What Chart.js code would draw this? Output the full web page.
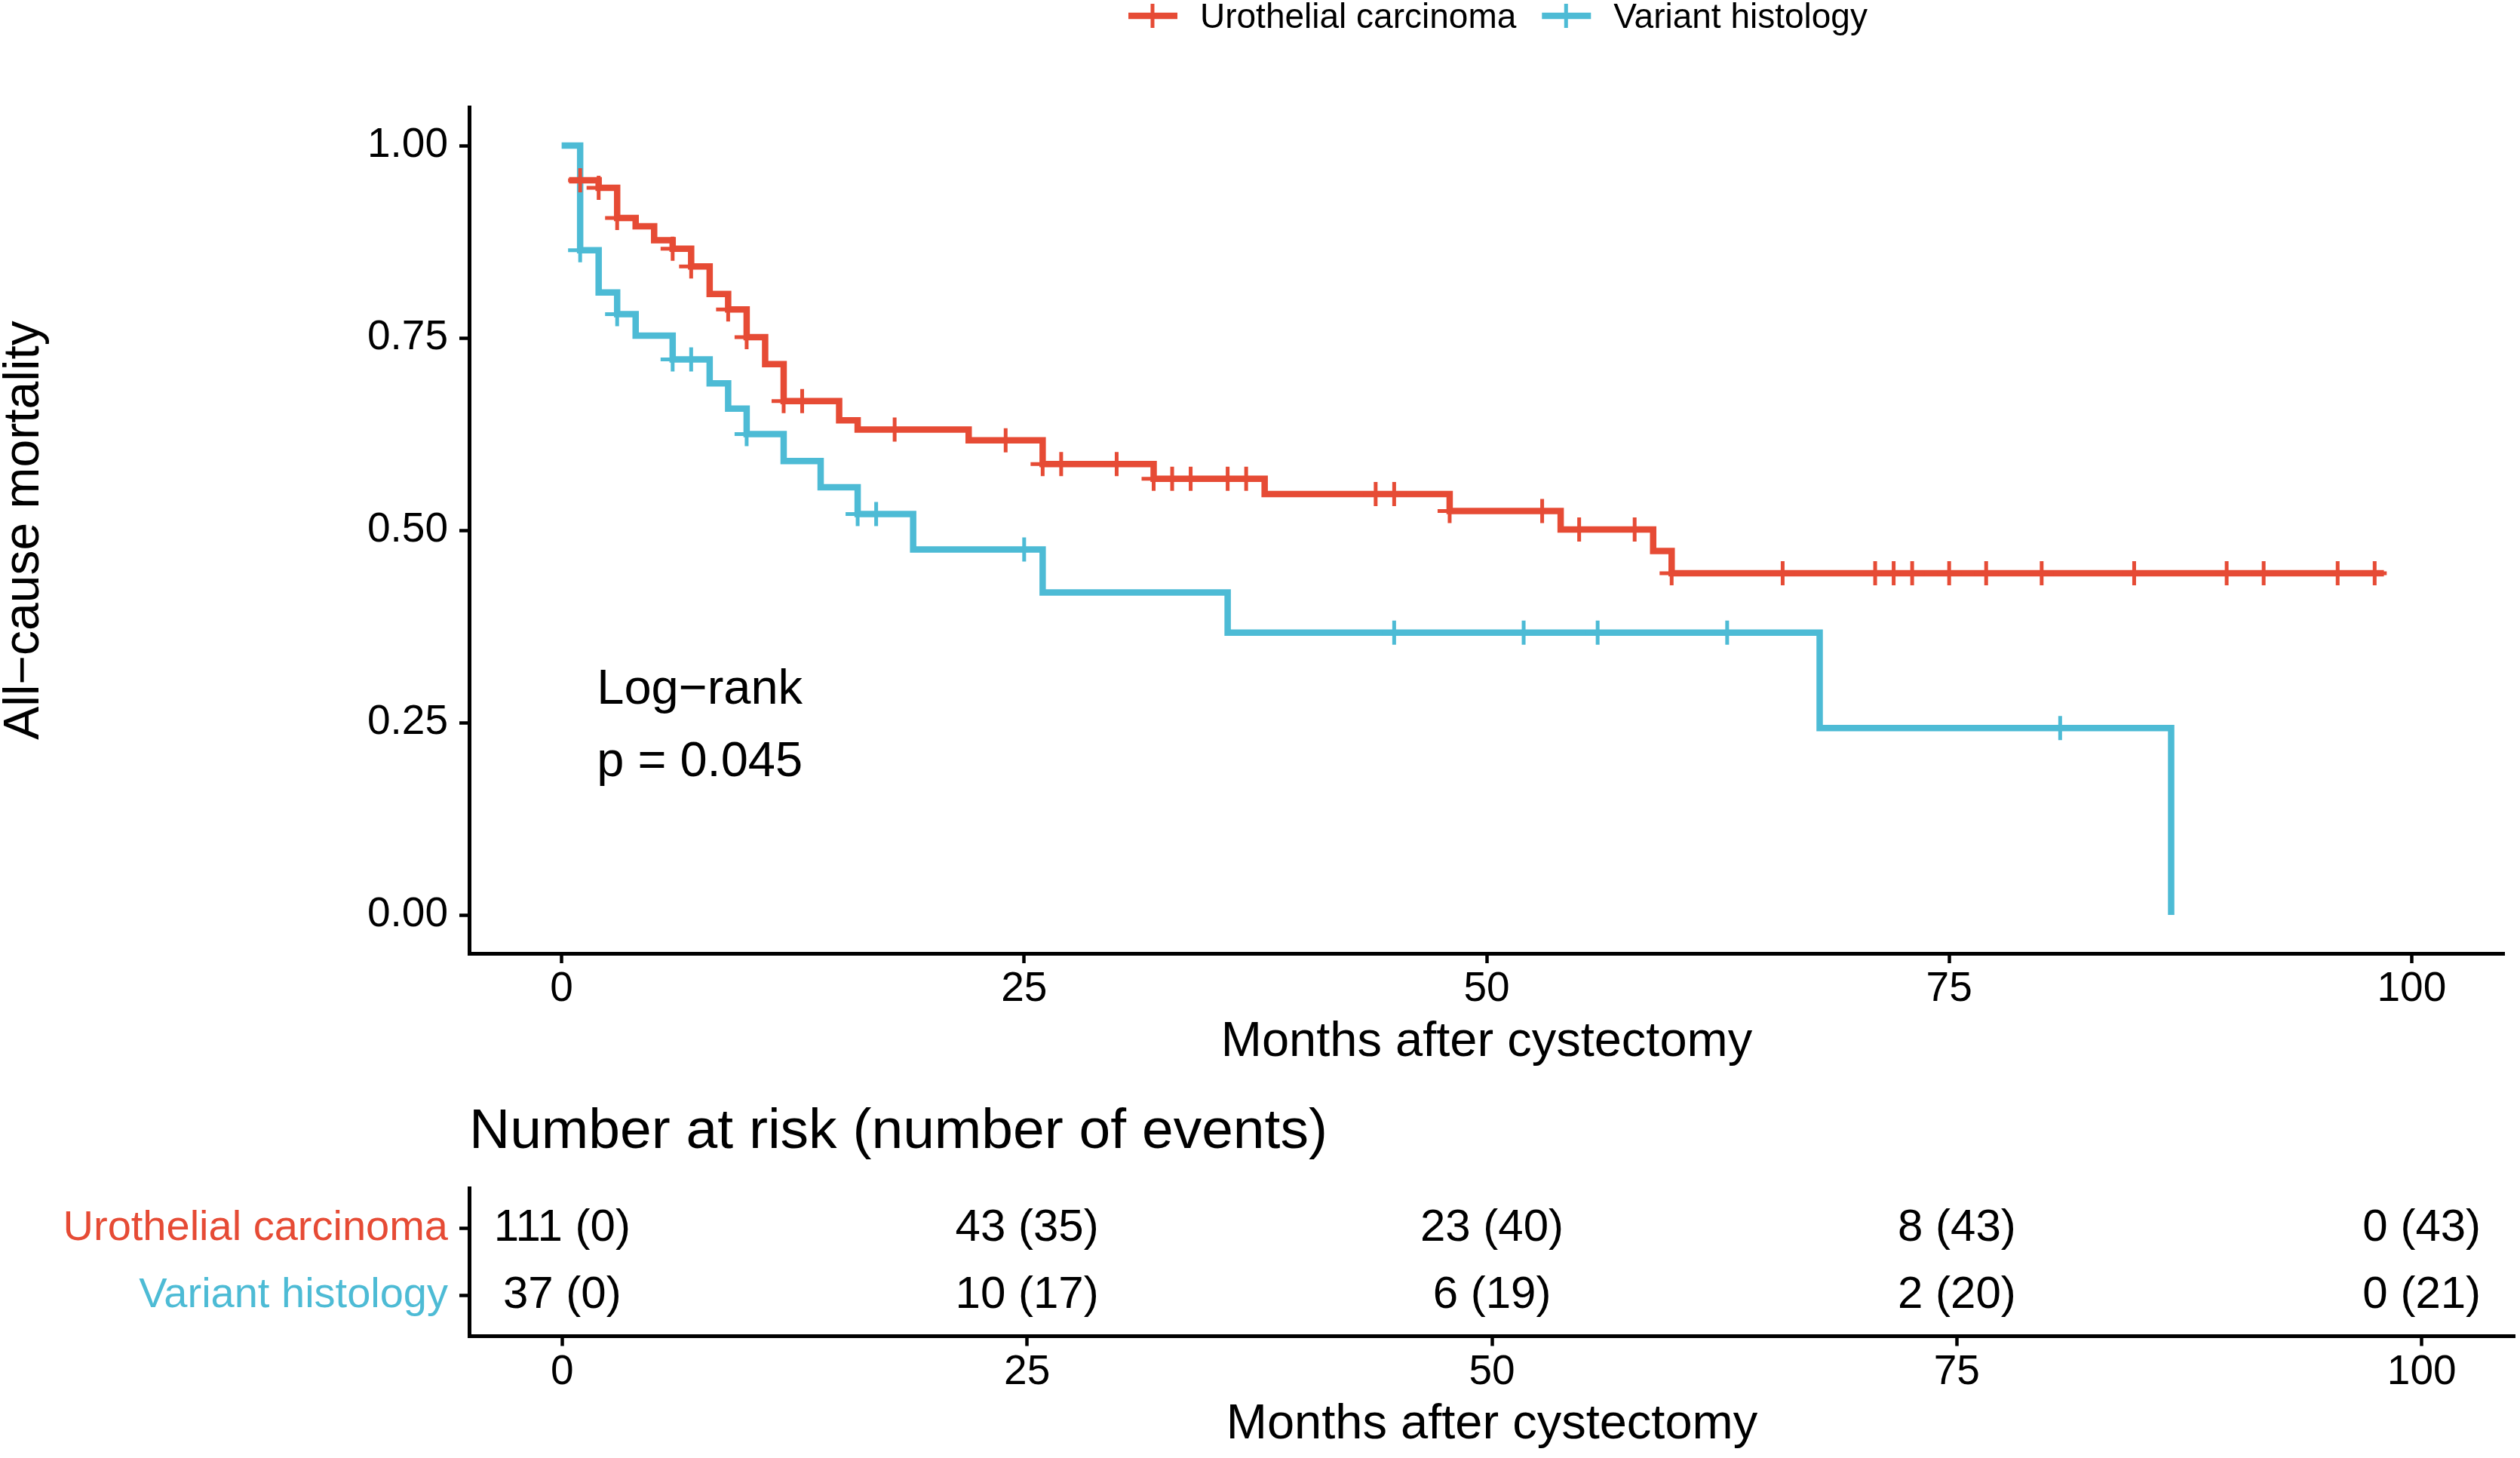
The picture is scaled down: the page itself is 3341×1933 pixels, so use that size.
<!DOCTYPE html>
<html>
<head>
<meta charset="utf-8">
<title>All-cause mortality after cystectomy</title>
<script src="https://cdn.jsdelivr.net/npm/chart.js@4.4.1/dist/chart.umd.min.js"></script>
<style>
  html, body { margin: 0; padding: 0; background: #fff; overflow: hidden; }
  #wrap { position: relative; width: 3341px; height: 1933px; }
  canvas { position: absolute; left: 0; }
  #km { top: 0; }
  #risk { top: 1440px; }
</style>
</head>
<body>
<div id="wrap">
  <canvas id="km" width="3341" height="1440"></canvas>
  <canvas id="risk" width="3341" height="493"></canvas>
</div>
<script>
const groups = ['Urothelial carcinoma', 'Variant histology'];
const colors = ['#E64B35', '#4DBBD5'];

// Kaplan-Meier steps: month of each drop and the level after it
const ucTimes = [0.4, 2, 3, 4, 5, 6, 7, 8, 9, 10, 11, 12, 15, 16, 22, 26, 32, 38, 48, 54, 59, 60, 98.5];
const ucSurv = [0.955, 0.945, 0.906, 0.895, 0.877, 0.866, 0.843, 0.807, 0.787, 0.751, 0.716, 0.668, 0.643, 0.631, 0.617, 0.586, 0.567, 0.547, 0.525, 0.501, 0.473, 0.444, 0.444];
const ucCensor = [1, 2, 3, 6, 7, 9, 10, 12, 13, 18, 24, 26, 27, 30, 32, 33, 34, 36, 37, 44, 45, 48, 53, 55, 58, 60, 66, 71, 72, 73, 75, 77, 80, 85, 90, 92, 96, 98];

const vhTimes = [0, 1, 2, 3, 4, 6, 8, 9, 10, 12, 14, 16, 19, 26, 36, 68, 87];
const vhSurv = [1.0, 0.864, 0.809, 0.781, 0.753, 0.722, 0.691, 0.658, 0.625, 0.590, 0.556, 0.521, 0.475, 0.419, 0.367, 0.243, 0.0];
const vhCensor = [1, 3, 6, 7, 10, 16, 17, 25, 45, 52, 56, 63, 81];

const xTicks = [0, 25, 50, 75, 100];
const yTicks = [0, 0.25, 0.5, 0.75, 1];
const yTickLabels = ['0.00', '0.25', '0.50', '0.75', '1.00'];

// number at risk table
const riskTimes = [0, 25, 50, 75, 100];
const ucAtRisk = [111, 43, 23, 8, 0];
const ucEvents = [0, 35, 40, 43, 43];
const vhAtRisk = [37, 10, 6, 2, 0];
const vhEvents = [0, 17, 19, 20, 21];
const riskRows = [2, 1];

const pvalLines = ['Log\u2212rank', 'p = 0.045'];
const pvalPos = [[1.9, 0.275], [1.9, 0.18]];

const FONT = '"Liberation Sans", Arial, Helvetica, sans-serif';
Chart.defaults.font.family = FONT;
Chart.defaults.color = '#000';

function steps(times, surv) {
    return times.map((t, i) => ({x: t, y: surv[i]}));
}

function survAt(times, surv, t) {
    let s = 1;
    for (let i = 0; i < times.length; i++) {
        if (times[i] <= t) s = surv[i];
    }
    return s;
}

function censorPoints(censor, times, surv) {
    return censor.map(t => ({x: t, y: survAt(times, surv, t)}));
}

function axisX(height) {
    return {
        type: 'linear',
        min: -5,
        max: 105,
        afterBuildTicks: s => { s.ticks = xTicks.map(v => ({value: v})); },
        afterFit: s => { s.height = height; },
        ticks: { font: {size: 55}, padding: 2, maxRotation: 0, autoSkip: false },
        grid: { display: true, drawOnChartArea: false, drawTicks: true, tickLength: 13, tickWidth: 4.5, color: '#000' },
        border: { display: true, color: '#000', width: 5 },
        title: { display: true, text: 'Months after cystectomy', font: {size: 65, lineHeight: 1}, padding: 0, color: '#000' }
    };
}

// legend on top: line + cross keys
const kmLegend = {
    id: 'kmLegend',
    afterDraw(chart) {
        const ctx = chart.ctx;
        ctx.save();
        ctx.font = '46px ' + FONT;
        ctx.textBaseline = 'alphabetic';
        ctx.textAlign = 'left';
        let x = 1496;
        const y = 21;
        groups.forEach((g, i) => {
            ctx.strokeStyle = colors[i];
            ctx.lineWidth = 8.5;
            ctx.beginPath();
            ctx.moveTo(x, y);
            ctx.lineTo(x + 65, y);
            ctx.stroke();
            ctx.lineWidth = 5;
            ctx.beginPath();
            ctx.moveTo(x + 32, y - 16);
            ctx.lineTo(x + 32, y + 16);
            ctx.stroke();
            ctx.fillStyle = '#000';
            ctx.fillText(g, x + 95, 37);
            x = x + 95 + ctx.measureText(g).width + 34;
        });
        ctx.restore();
    }
};

const pvalLabel = {
    id: 'pvalLabel',
    afterDatasetsDraw(chart) {
        const {ctx, scales} = chart;
        ctx.save();
        ctx.font = '65px ' + FONT;
        ctx.fillStyle = '#000';
        ctx.textAlign = 'left';
        ctx.textBaseline = 'alphabetic';
        pvalLines.forEach((txt, i) => {
            ctx.fillText(txt, scales.x.getPixelForValue(pvalPos[i][0]), scales.y.getPixelForValue(pvalPos[i][1]));
        });
        ctx.restore();
    }
};

new Chart(document.getElementById('km'), {
    type: 'line',
    data: {
        datasets: [
            { type: 'scatter', label: groups[0] + ' censored', data: censorPoints(ucCensor, ucTimes, ucSurv),
              pointStyle: 'cross', pointRadius: 16, borderColor: colors[0], borderWidth: 5, showLine: false },
            { type: 'scatter', label: groups[1] + ' censored', data: censorPoints(vhCensor, vhTimes, vhSurv),
              pointStyle: 'cross', pointRadius: 16, borderColor: colors[1], borderWidth: 5, showLine: false },
            { type: 'line', label: groups[0], data: steps(ucTimes, ucSurv), stepped: 'before',
              borderColor: colors[0], borderWidth: 8.5, pointRadius: 0, fill: false },
            { type: 'line', label: groups[1], data: steps(vhTimes, vhSurv), stepped: 'before',
              borderColor: colors[1], borderWidth: 8.5, pointRadius: 0, fill: false }
        ]
    },
    options: {
        responsive: false,
        animation: false,
        devicePixelRatio: 1,
        layout: { padding: { top: 142, right: 7, bottom: 25, left: 0 } },
        plugins: { legend: { display: false }, tooltip: { enabled: false } },
        scales: {
            x: axisX(151),
            y: {
                min: -0.05,
                max: 1.05,
                afterBuildTicks: s => { s.ticks = yTicks.map(v => ({value: v})); },
                afterFit: s => { s.width = 622; },
                ticks: { font: {size: 55}, padding: 15, callback: (v, i) => yTickLabels[i] },
                grid: { display: true, drawOnChartArea: false, drawTicks: true, tickLength: 13, tickWidth: 4.5, color: '#000' },
                border: { display: true, color: '#000', width: 5 },
                title: { display: true, text: 'All\u2212cause mortality', font: {size: 66, lineHeight: 1}, padding: 0, color: '#000' }
            }
        }
    },
    plugins: [kmLegend, pvalLabel]
});

// risk table
const riskText = {
    id: 'riskText',
    afterDatasetsDraw(chart) {
        const ctx = chart.ctx;
        ctx.save();
        ctx.font = '60px ' + FONT;
        ctx.fillStyle = '#000';
        ctx.textAlign = 'center';
        ctx.textBaseline = 'middle';
        chart.data.datasets.forEach((ds, di) => {
            chart.getDatasetMeta(di).data.forEach((el, i) => {
                ctx.fillText(ds.labels[i], el.x, el.y);
            });
        });
        ctx.restore();
    }
};

new Chart(document.getElementById('risk'), {
    type: 'scatter',
    data: {
        datasets: [
            { label: groups[0], data: riskTimes.map(t => ({x: t, y: riskRows[0]})), pointRadius: 0,
              labels: ucAtRisk.map((n, i) => n + ' (' + ucEvents[i] + ')') },
            { label: groups[1], data: riskTimes.map(t => ({x: t, y: riskRows[1]})), pointRadius: 0,
              labels: vhAtRisk.map((n, i) => n + ' (' + vhEvents[i] + ')') }
        ]
    },
    options: {
        responsive: false,
        animation: false,
        devicePixelRatio: 1,
        layout: { padding: { top: 0, right: 7, bottom: 11, left: 0 } },
        plugins: {
            legend: { display: false },
            tooltip: { enabled: false },
            title: { display: true, text: 'Number at risk (number of events)', align: 'start', fullSize: false,
                     font: {size: 75, lineHeight: 1, weight: 'normal'}, padding: {top: 24, bottom: 36}, color: '#000' }
        },
        scales: {
            x: axisX(150.5),
            y: {
                min: 0.4,
                max: 2.6,
                afterBuildTicks: s => { s.ticks = riskRows.map(v => ({value: v})).reverse(); },
                afterFit: s => { s.width = 622; },
                ticks: {
                    font: {size: 56},
                    padding: 15,
                    callback: v => groups[riskRows.indexOf(v)],
                    color: c => colors[riskRows.indexOf(c.tick.value)]
                },
                grid: { display: true, drawOnChartArea: false, drawTicks: true, tickLength: 13, tickWidth: 4.5, color: '#000' },
                border: { display: true, color: '#000', width: 5 }
            }
        }
    },
    plugins: [riskText]
});
</script>
</body>
</html>
